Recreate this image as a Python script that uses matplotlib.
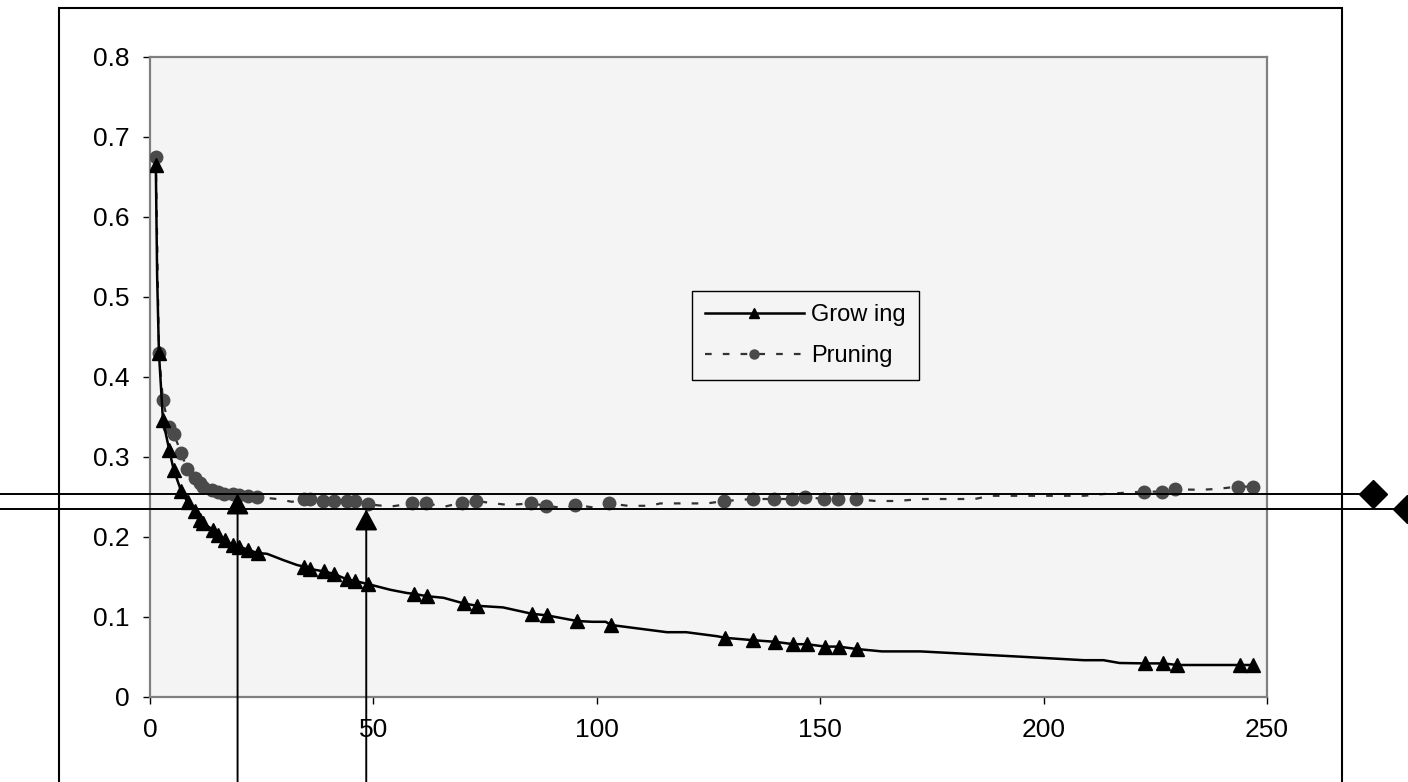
import matplotlib
matplotlib.use("Agg")
import matplotlib.pyplot as plt
from matplotlib.lines import Line2D
from matplotlib.patches import Rectangle
from matplotlib.transforms import blended_transform_factory

plt.rcParams['font.family'] = ['Liberation Sans', 'DejaVu Sans']

# Growing series: line points, 1 = point carries a marker
grow_x = [1.3, 1.6, 2.0, 2.9, 4.3, 5.3, 7.0, 8.4, 10.0, 11.1, 11.8, 14.1, 15.2, 16.7, 18.5, 20.0,
          21.9, 24.1, 26.2, 29.9, 32.9, 34.4, 35.9, 38.9, 41.1, 44.1, 45.9, 48.9, 53.8, 57.5,
          59.0, 62.0, 65.7, 70.2, 73.2, 79.0, 85.5, 88.9, 95.6, 99.0, 102.0, 103.2, 115.7, 120.0,
          126.9, 128.7, 135.0, 139.9, 144.0, 147.0, 151.1, 154.1, 158.2, 163.8, 172.4, 194.8,
          209.0, 213.4, 217.0, 222.7, 226.8, 229.9, 243.9, 246.9]
grow_y = [0.665, 0.525, 0.430, 0.346, 0.309, 0.284, 0.257, 0.244, 0.232, 0.221, 0.2175, 0.209,
          0.2025, 0.196, 0.190, 0.188, 0.184, 0.180, 0.179, 0.171, 0.165, 0.163, 0.160, 0.157,
          0.154, 0.147, 0.145, 0.141, 0.134, 0.130, 0.129, 0.126, 0.124, 0.117, 0.114, 0.112,
          0.104, 0.102, 0.095, 0.094, 0.094, 0.090, 0.081, 0.081, 0.076, 0.074, 0.071, 0.069,
          0.066, 0.066, 0.063, 0.063, 0.060, 0.057, 0.057, 0.0504, 0.046, 0.046, 0.0425, 0.042,
          0.042, 0.040, 0.040, 0.040]
grow_mark = [1, 0, 1, 1, 1, 1, 1, 1, 1, 1, 1, 1, 1, 1, 1, 1, 1, 1, 0, 0, 0, 1, 1, 1, 1, 1, 1, 1,
             0, 0, 1, 1, 0, 1, 1, 0, 1, 1, 1, 0, 0, 1, 0, 0, 0, 1, 1, 1, 1, 1, 1, 1, 1, 0, 0, 0,
             0, 0, 0, 1, 1, 1, 1, 1]

# Pruning series
prune_x = [1.3, 2.0, 2.9, 4.2, 5.3, 7.0, 8.3, 10.0, 11.1, 11.8, 13.9, 15.2, 16.6, 18.5, 20.0,
           21.9, 24.0, 28.4, 31.8, 34.4, 35.9, 38.7, 41.1, 44.1, 45.9, 48.7, 53.8, 58.7, 61.7,
           66.0, 69.8, 72.9, 77.2, 80.2, 85.2, 88.7, 92.9, 95.2, 99.2, 102.7, 107.0, 112.0,
           114.2, 124.7, 128.5, 134.9, 139.7, 143.8, 146.6, 150.9, 153.9, 158.0, 162.4, 167.0,
           173.0, 184.6, 188.0, 209.0, 213.4, 222.5, 226.6, 229.4, 235.0, 238.7, 243.5, 246.9]
prune_y = [0.675, 0.430, 0.371, 0.338, 0.329, 0.305, 0.285, 0.274, 0.268, 0.263, 0.259, 0.256,
           0.254, 0.254, 0.253, 0.251, 0.250, 0.2475, 0.244, 0.248, 0.248, 0.245, 0.245, 0.245,
           0.245, 0.241, 0.238, 0.242, 0.242, 0.238, 0.243, 0.245, 0.242, 0.240, 0.242, 0.239,
           0.236, 0.240, 0.237, 0.242, 0.239, 0.239, 0.242, 0.242, 0.245, 0.2475, 0.2475, 0.2475,
           0.250, 0.2475, 0.2475, 0.2475, 0.245, 0.245, 0.2475, 0.2475, 0.2515, 0.2515, 0.2537,
           0.2567, 0.2567, 0.2596, 0.259, 0.260, 0.263, 0.263]
prune_mark = [1, 1, 1, 1, 1, 1, 1, 1, 1, 1, 1, 1, 1, 1, 1, 1, 1, 0, 0, 1, 1, 1, 1, 1, 1, 1, 0,
              1, 1, 0, 1, 1, 0, 0, 1, 1, 0, 1, 0, 1, 0, 0, 0, 0, 1, 1, 1, 1, 1, 1, 1, 1, 0, 0,
              0, 0, 0, 0, 0, 1, 1, 1, 0, 0, 1, 1]

# guide lines and arrows drawn over the chart
guide_y = [0.2537, 0.2356]
guide_end = [0.975, 0.9995]
arrow_x = [19.6, 48.4]
arrow_tip = [0.2545, 0.2345]

xticks = [0, 50, 100, 150, 200, 250]
yticks = [0, 0.1, 0.2, 0.3, 0.4, 0.5, 0.6, 0.7, 0.8]
ytick_labels = ['0', '0.1', '0.2', '0.3', '0.4', '0.5', '0.6', '0.7', '0.8']

fig = plt.figure(figsize=(14.08, 7.82), dpi=100)
ax = fig.add_axes([150 / 1408, 1 - 697 / 782, 1117 / 1408, 640 / 782])
ax.set_facecolor('#f4f4f4')

grow_idx = [i for i, m in enumerate(grow_mark) if m]
prune_idx = [i for i, m in enumerate(prune_mark) if m]

ax.plot(prune_x, prune_y, color='#333333', lw=1.6, ls=(0, (3, 5)),
        marker='o', ms=9, mfc='#4a4a4a', mec='#4a4a4a', markevery=prune_idx,
        label='Pruning', zorder=3)
ax.plot(grow_x, grow_y, color='black', lw=1.8, marker='^', ms=9.5,
        mfc='black', mec='black', markevery=grow_idx, label='Grow ing', zorder=4)

ax.set_xlim(0, 250)
ax.set_ylim(0, 0.8)
ax.set_xticks(xticks)
ax.set_yticks(yticks)
ax.set_yticklabels(ytick_labels)
ax.tick_params(direction='out', length=5, width=1, color='black', labelsize=19)
ax.tick_params(axis='y', pad=10)
ax.tick_params(axis='x', pad=10)
for s in ax.spines.values():
    s.set_color('#808080')
    s.set_linewidth(1.6)

handles = [Line2D([], [], color='black', lw=1.8, marker='^', ms=7, mfc='black', mec='black'),
           Line2D([], [], color='#333333', lw=1.6, ls=(0, (3, 5)), marker='o', ms=6.5,
                  mfc='#4a4a4a', mec='#4a4a4a')]
leg = ax.legend(handles, ['Grow ing', 'Pruning'], loc='upper left',
                bbox_to_anchor=(0.485, 0.634), borderaxespad=0, fontsize=17,
                handlelength=4.2, handletextpad=0.3, numpoints=1, fancybox=False,
                borderpad=0.55, labelspacing=0.8, framealpha=1)
leg.get_frame().set_facecolor('#f4f4f4')
leg.get_frame().set_edgecolor('black')
leg.get_frame().set_linewidth(1.0)

# outer chart frame
fig.patches.append(Rectangle((59 / 1408, -0.05), (1342 - 59) / 1408, 1.05 - 8 / 782,
                             transform=fig.transFigure, fill=False, ec='black', lw=1.5))

fx_dy = blended_transform_factory(fig.transFigure, ax.transData)
for gy, gx in zip(guide_y, guide_end):
    fig.add_artist(Line2D([0, gx], [gy, gy], transform=fx_dy, color='black', lw=1.4,
                          marker='D', ms=14, mfc='black', mec='black', markevery=[1]))

dx_fy = blended_transform_factory(ax.transData, fig.transFigure)
for axx, tip in zip(arrow_x, arrow_tip):
    ax.annotate('', xy=(axx, tip), xycoords='data', xytext=(axx, 0), textcoords=dx_fy,
                arrowprops=dict(arrowstyle='-|>,head_length=1.3,head_width=0.7',
                                mutation_scale=10, lw=1.4, color='black',
                                shrinkA=0, shrinkB=0), annotation_clip=False, zorder=6)

fig.savefig('out.png', dpi=100)
